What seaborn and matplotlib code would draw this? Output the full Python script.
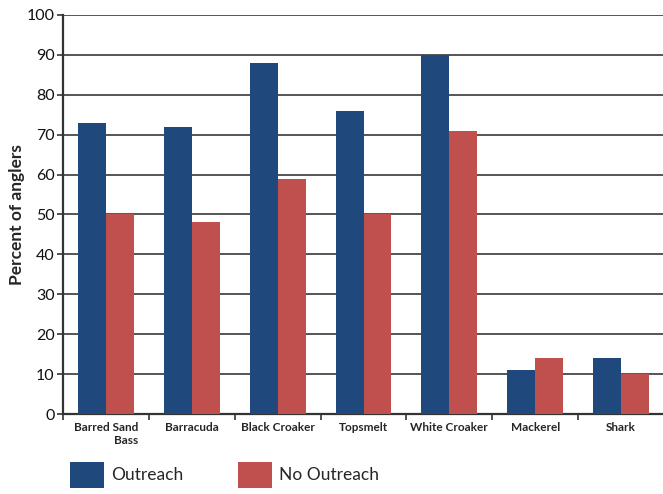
import matplotlib
matplotlib.use("Agg")
import matplotlib.pyplot as plt
import seaborn as sns
import pandas as pd
import numpy as np
from matplotlib.patches import Patch

species = ["Barred Sand\nBass", "Barracuda", "Black Croaker", "Topsmelt",
           "White Croaker", "Mackerel", "Shark"]
outreach = [73, 72, 88, 76, 90, 11, 14]
no_outreach = [50, 48, 59, 50, 71, 14, 10]
groups = ["Outreach", "No Outreach"]
colors = ["#1F497D", "#C0504D"]

df = pd.DataFrame({
    "species": species * 2,
    "percent": outreach + no_outreach,
    "group": [groups[0]] * len(species) + [groups[1]] * len(species),
})

sns.set_style("white")
plt.rcParams["font.family"] = ["Lato", "DejaVu Sans"]

fig = plt.figure(figsize=(6.63, 4.94), dpi=100)
ax = fig.add_axes([63 / 663, 1 - 414 / 494, 601 / 663, 399 / 494])

sns.barplot(data=df, x="species", y="percent", hue="group", palette=colors,
            width=0.65, saturation=1, linewidth=0, ax=ax, legend=False,
            zorder=3)

ax.set_ylim(0, 100)
ax.set_xlim(-0.5, len(species) - 0.5)
ax.set_yticks(np.arange(0, 101, 10))
ax.tick_params(axis="y", labelsize=11.5, length=4, width=1.2, color="#333333",
               labelcolor="#111111", pad=2, direction="out", left=True)
ax.yaxis.grid(True, color="#555555", linewidth=1.4, zorder=0)
ax.xaxis.grid(False)
ax.set_axisbelow(True)

# category boundaries as major ticks, names as minor tick labels
ax.set_xticks(np.arange(len(species) + 1) - 0.5)
ax.set_xticklabels([])
ax.set_xticks(np.arange(len(species)), minor=True)
ax.set_xticklabels(species, minor=True, fontsize=8.5, fontweight="bold",
                   multialignment="right")
ax.tick_params(axis="x", which="major", length=4, width=1.2, color="#333333",
               direction="out", bottom=True)
ax.tick_params(axis="x", which="minor", length=0, pad=6, bottom=True)

for s in ["top", "right"]:
    ax.spines[s].set_visible(False)
for s in ["left", "bottom"]:
    ax.spines[s].set_color("#333333")
    ax.spines[s].set_linewidth(1.6)

ax.set_xlabel("")
ax.set_ylabel("Percent of anglers", fontsize=12.5, fontweight="bold")
ax.yaxis.set_label_coords(-0.064, 0.5)

handles = [Patch(facecolor=c, edgecolor="none") for c in colors]
fig.legend(handles, groups, loc="lower left", bbox_to_anchor=(63 / 663, -0.002),
           ncol=2, frameon=False, fontsize=12.5, handlelength=1.95,
           handleheight=1.95, handletextpad=0.45, columnspacing=3.1,
           borderaxespad=0)

fig.savefig("out.png", dpi=100)
